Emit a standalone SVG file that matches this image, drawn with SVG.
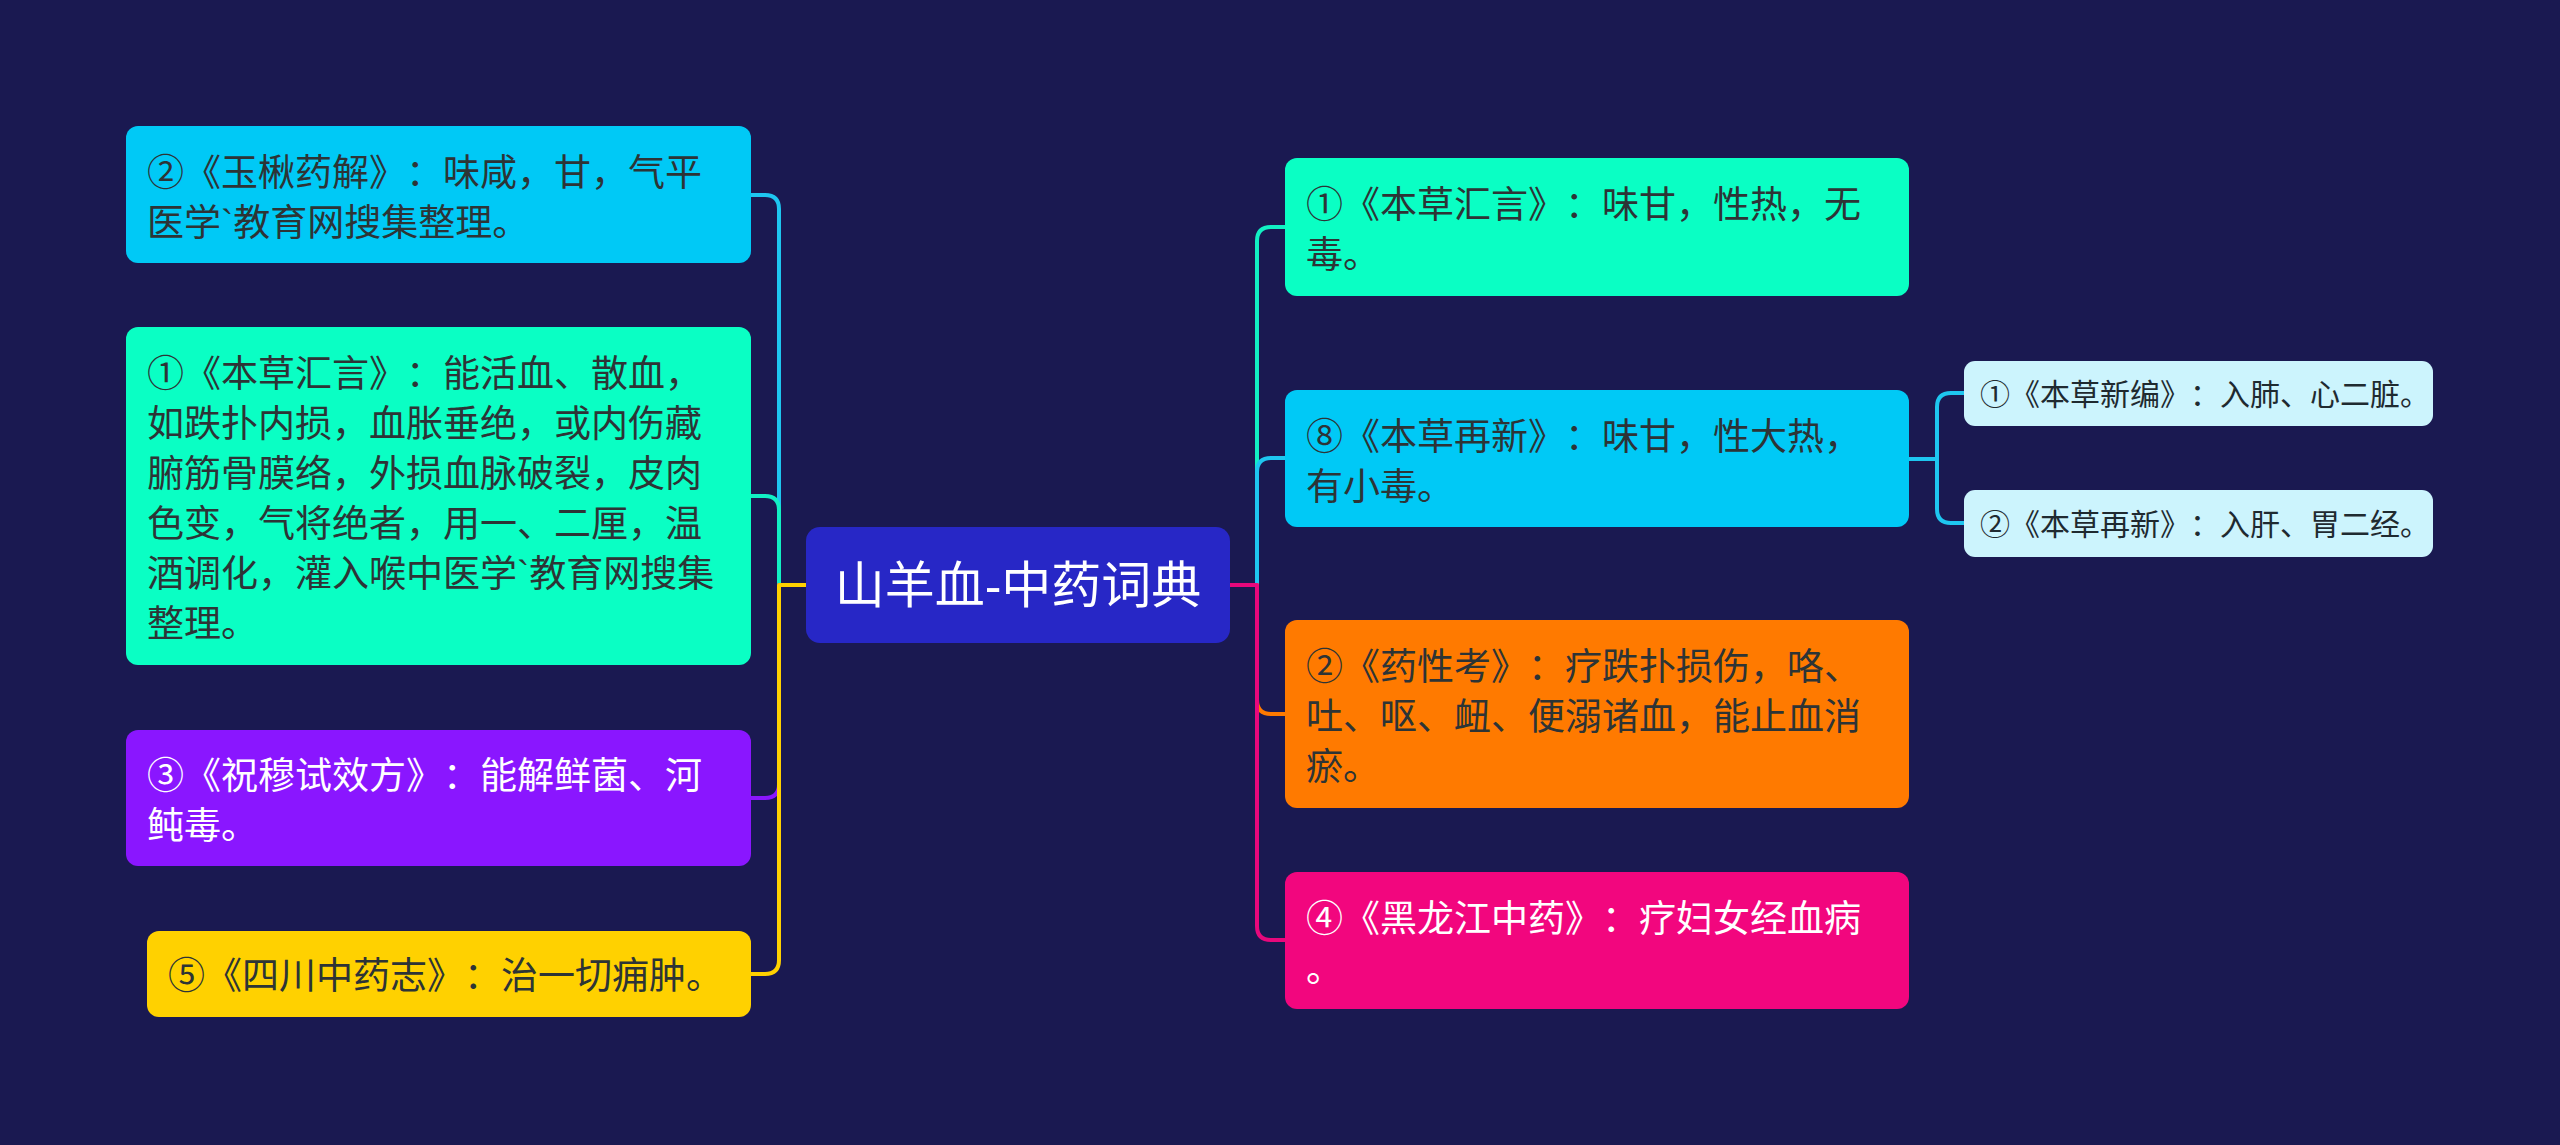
<svg xmlns="http://www.w3.org/2000/svg" width="2560" height="1145" viewBox="0 0 2560 1145">
<style>
text{font-family:"Liberation Sans","Noto Sans CJK SC",sans-serif;text-spacing-trim:space-all;font-kerning:none;}
.t{font-size:37px;fill:#2d3436;}
.w{font-size:37px;fill:#ffffff;}
.s{font-size:30px;fill:#1f2a30;}
.root{font-size:50px;fill:#ffffff;}
.c{fill:none;stroke-width:4;stroke-linecap:round;stroke-linejoin:round;}
</style>
<rect width="2560" height="1145" fill="#1a1951"/>
<g id="connectors">
<path class="c" stroke="#1ec6f0" d="M806,585 H779 V209 Q779,195 765,195 H751"/>
<path class="c" stroke="#12f0c4" d="M806,585 H779 V510 Q779,496 765,496 H751"/>
<path class="c" stroke="#8a16ff" d="M806,585 H779 V784 Q779,798 765,798 H751"/>
<path class="c" stroke="#ffd100" d="M806,585 H779 V960 Q779,974 765,974 H751"/>
<path class="c" stroke="#12f0c4" d="M1230,585 H1257 V241 Q1257,227 1271,227 H1285"/>
<path class="c" stroke="#1ec6f0" d="M1230,585 H1257 V472 Q1257,458 1271,458 H1285"/>
<path class="c" stroke="#ff7a00" d="M1230,585 H1257 V700 Q1257,714 1271,714 H1285"/>
<path class="c" stroke="#e8087c" d="M1230,585 H1257 V926 Q1257,940 1271,940 H1285"/>
<path class="c" stroke="#1ec6f0" d="M1909,459 H1937 V407 Q1937,393 1951,393 H1964"/>
<path class="c" stroke="#1ec6f0" d="M1909,459 H1937 V509 Q1937,523 1951,523 H1964"/>
</g>
<g id="root">
<rect x="806" y="527" width="424" height="116" rx="14" fill="#2727c6"/>
<text class="root" x="1018" y="603" text-anchor="middle">山羊血-中药词典</text>
</g>
<g id="node-l1">
<rect x="126" y="126" width="625" height="137" rx="12" fill="#00c9f6"/>
<text class="t" x="147" y="186">②《玉楸药解》：味咸，甘，气平</text>
<text class="t" x="147" y="236">医学`教育网搜集整理。</text>
</g>
<g id="node-l2">
<rect x="126" y="327" width="625" height="338" rx="12" fill="#0affc4"/>
<text class="t" x="147" y="387">①《本草汇言》：能活血、散血，</text>
<text class="t" x="147" y="437">如跌扑内损，血胀垂绝，或内伤藏</text>
<text class="t" x="147" y="487">腑筋骨膜络，外损血脉破裂，皮肉</text>
<text class="t" x="147" y="537">色变，气将绝者，用一、二厘，温</text>
<text class="t" x="147" y="587">酒调化，灌入喉中医学`教育网搜集</text>
<text class="t" x="147" y="637">整理。</text>
</g>
<g id="node-l3">
<rect x="126" y="730" width="625" height="136" rx="12" fill="#8a16ff"/>
<text class="w" x="147" y="789">③《祝穆试效方》：能解鲜菌、河</text>
<text class="w" x="147" y="839">鲀毒。</text>
</g>
<g id="node-l4">
<rect x="147" y="931" width="604" height="86" rx="12" fill="#ffd100"/>
<text class="t" x="168" y="989">⑤《四川中药志》：治一切痈肿。</text>
</g>
<g id="node-r1">
<rect x="1285" y="158" width="624" height="138" rx="12" fill="#0affc4"/>
<text class="t" x="1306" y="218">①《本草汇言》：味甘，性热，无</text>
<text class="t" x="1306" y="268">毒。</text>
</g>
<g id="node-r2">
<rect x="1285" y="390" width="624" height="137" rx="12" fill="#00c9f6"/>
<text class="t" x="1306" y="450">⑧《本草再新》：味甘，性大热，</text>
<text class="t" x="1306" y="500">有小毒。</text>
</g>
<g id="node-r3">
<rect x="1285" y="620" width="624" height="188" rx="12" fill="#ff7a00"/>
<text class="t" x="1306" y="680">②《药性考》：疗跌扑损伤，咯、</text>
<text class="t" x="1306" y="730">吐、呕、衄、便溺诸血，能止血消</text>
<text class="t" x="1306" y="780">瘀。</text>
</g>
<g id="node-r4">
<rect x="1285" y="872" width="624" height="137" rx="12" fill="#f2067e"/>
<text class="w" x="1306" y="932">④《黑龙江中药》：疗妇女经血病</text>
<text class="w" x="1306" y="982">。</text>
</g>
<g id="node-r2a">
<rect x="1964" y="361" width="469" height="65" rx="11" fill="#ccf4fd"/>
<text class="s" x="1980" y="405">①《本草新编》：入肺、心二脏。</text>
</g>
<g id="node-r2b">
<rect x="1964" y="490" width="469" height="67" rx="11" fill="#ccf4fd"/>
<text class="s" x="1980" y="535">②《本草再新》：入肝、胃二经。</text>
</g>
</svg>
